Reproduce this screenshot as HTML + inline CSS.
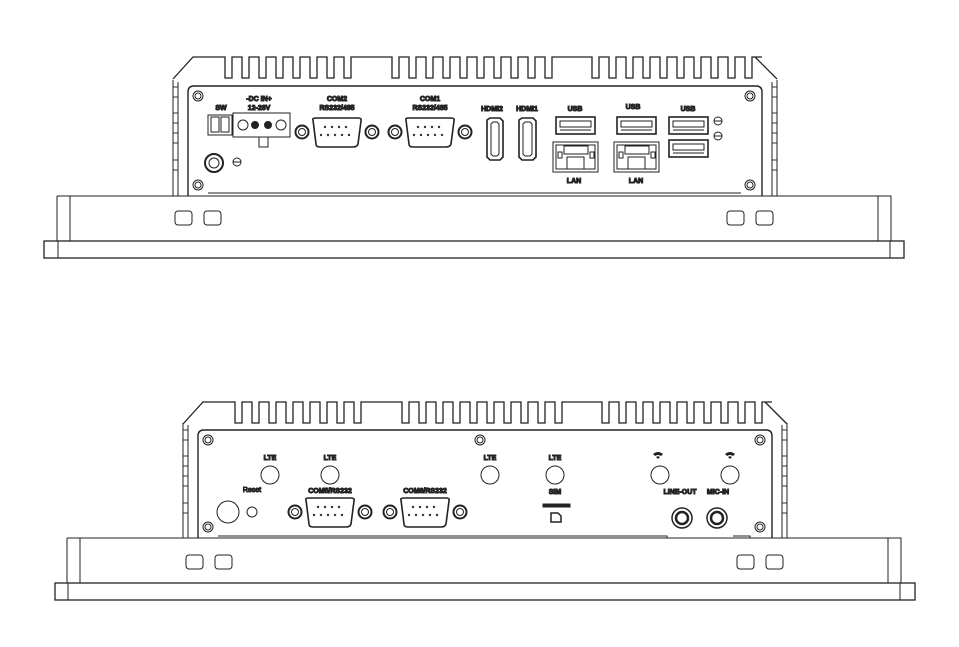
<!DOCTYPE html>
<html><head><meta charset="utf-8"><style>
html,body{margin:0;padding:0;background:#fff}
svg{display:block}
text{font-family:"Liberation Sans",sans-serif;font-weight:bold;font-size:7px;text-anchor:middle;fill:#3b2f2a}
.b{fill:#1f4f8c}
</style></head><body>
<svg id="s" width="959" height="647" viewBox="0 0 959 647" xmlns="http://www.w3.org/2000/svg" fill="none" stroke="#222" stroke-width="1">
<g id="fins"></g>

<!-- ===== TOP UNIT ===== -->
<path d="M173 80 V196 M178 82 V196 M777 80 V196 M772 82 V196"/>
<g stroke-width="0.9">
<rect x="173" y="87" width="5" height="10"/><rect x="173" y="113" width="5" height="10"/><rect x="173" y="133" width="5" height="10"/><rect x="173" y="160" width="5" height="10"/>
<rect x="772" y="87" width="5" height="10"/><rect x="772" y="113" width="5" height="10"/><rect x="772" y="133" width="5" height="10"/><rect x="772" y="160" width="5" height="10"/>
</g>
<path d="M188 196 V92 Q188 86 194 86 H756 Q762 86 762 92 V196" stroke-width="1.4"/>
<path d="M208 193 H741"/>
<path d="M57 196 H891 V241 M57 196 V241 M70 196 V241 M878 196 V241"/>
<rect x="44" y="241" width="860" height="17" stroke-width="1.3"/>
<path d="M58 241 V258 M890 241 V258"/>
<rect x="175" y="211" width="17" height="14" rx="3"/><rect x="204" y="211" width="17" height="14" rx="3"/>
<rect x="727" y="211" width="17" height="14" rx="3"/><rect x="756" y="211" width="17" height="14" rx="3"/>
<g>
<circle cx="198" cy="96" r="5"/><circle cx="198" cy="96" r="3"/>
<circle cx="198" cy="185" r="5"/><circle cx="198" cy="185" r="3"/>
<circle cx="750" cy="96" r="5"/><circle cx="750" cy="96" r="3"/>
<circle cx="750" cy="185" r="5"/><circle cx="750" cy="185" r="3"/>
</g>
<rect x="208" y="115" width="24" height="20"/><rect x="211" y="117" width="8" height="15"/><rect x="221" y="117" width="8" height="15"/>
<rect x="233" y="113" width="57" height="24"/><circle cx="243" cy="125" r="5"/><circle cx="281" cy="125" r="5"/>
<circle cx="255" cy="125" r="3.5" fill="#222"/><circle cx="268" cy="125" r="3.5" fill="#222"/>
<rect x="259" y="137" width="9" height="10"/>
<circle cx="214" cy="163" r="9" stroke-width="2"/><circle cx="214" cy="163" r="5"/>
<circle cx="237" cy="162" r="4"/><path d="M233 162 H241"/>
<g id="db">
<path d="M313 120 Q312 118 316 118 H358 Q362 118 361 121 L358 144 Q357 147 353 147 H320 Q316 147 316 144 Z" stroke-width="1.6"/>
<g fill="#333" stroke="none"><circle cx="325" cy="127" r="1.2"/><circle cx="332" cy="127" r="1.2"/><circle cx="339" cy="127" r="1.2"/><circle cx="346" cy="127" r="1.2"/>
<circle cx="321" cy="135" r="1.2"/><circle cx="328" cy="135" r="1.2"/><circle cx="335" cy="135" r="1.2"/><circle cx="342" cy="135" r="1.2"/><circle cx="349" cy="135" r="1.2"/></g>
<circle cx="302" cy="132" r="6.5" stroke-width="2"/><circle cx="302" cy="132" r="3.5"/>
<circle cx="372" cy="132" r="6.5" stroke-width="2"/><circle cx="372" cy="132" r="3.5"/>
</g>
<use href="#db" transform="translate(93,0)"/>
<path d="M487 120 L490 118 H500 L503 121 V157 L500 160 H490 L487 157 Z" stroke-width="1.6"/><path d="M491 124 L493 122 H497 L499 124 V154 L497 156 H493 L491 154 Z"/>
<path d="M519 120 L522 118 H533 L536 121 V157 L533 160 H522 L519 157 Z" stroke-width="1.6"/><path d="M523 124 L525 122 H530 L532 124 V154 L530 156 H525 L523 154 Z"/>
<g id="usb"><rect x="556" y="117" width="39" height="17" stroke-width="1.6"/><rect x="560" y="121" width="31" height="6"/><path d="M560 130 H591"/></g>
<use href="#usb" transform="translate(61,0)"/>
<use href="#usb" transform="translate(113,0)"/>
<use href="#usb" transform="translate(113,23)"/>
<g id="lan"><rect x="553" y="142" width="45" height="30"/><rect x="556" y="145" width="39" height="24"/><rect x="564" y="146" width="24" height="8"/><rect x="567" y="157" width="17" height="12"/><rect x="558" y="152" width="4" height="6"/><rect x="590" y="152" width="4" height="6"/></g>
<use href="#lan" transform="translate(61,0)"/>
<circle cx="718" cy="121" r="4"/><path d="M714 121 H722"/><circle cx="718" cy="136" r="4"/><path d="M714 136 H722"/>
<text x="221" y="110">SW</text>
<text x="259" y="101">-DC IN+</text><text x="259" y="110">12-28V</text>
<text x="337" y="101">COM2</text><text x="337" y="110">RS232/485</text>
<text x="430" y="101">COM1</text><text x="430" y="110">RS232/485</text>
<text x="492" y="111" class="b">HDMI2</text><text x="527" y="111" class="b">HDMI1</text>
<text x="575" y="111">USB</text><text x="633" y="109">USB</text><text x="688" y="111">USB</text>
<text x="574" y="183" class="b">LAN</text><text x="636" y="183" class="b">LAN</text>

<!-- ===== BOTTOM UNIT ===== -->
<path d="M183 423 V538 M188 425 V538 M787 423 V538 M782 425 V538"/>
<g stroke-width="0.9">
<rect x="183" y="430" width="5" height="10"/><rect x="183" y="456" width="5" height="10"/><rect x="183" y="476" width="5" height="10"/><rect x="183" y="503" width="5" height="10"/>
<rect x="782" y="430" width="5" height="10"/><rect x="782" y="456" width="5" height="10"/><rect x="782" y="476" width="5" height="10"/><rect x="782" y="503" width="5" height="10"/>
</g>
<path d="M198 538 V436 Q198 430 204 430 H766 Q772 430 772 436 V538" stroke-width="1.4"/>
<path d="M218 536 H667 V538 M733 536 H750 V538"/>
<path d="M67 538 H901 V583 M67 538 V583 M80 538 V583 M888 538 V583"/>
<rect x="55" y="583" width="860" height="17" stroke-width="1.3"/>
<path d="M68 583 V600 M900 583 V600"/>
<rect x="186" y="555" width="17" height="14" rx="3"/><rect x="215" y="555" width="17" height="14" rx="3"/>
<rect x="737" y="555" width="17" height="14" rx="3"/><rect x="766" y="555" width="17" height="14" rx="3"/>
<g>
<circle cx="208" cy="440" r="5"/><circle cx="208" cy="440" r="3"/>
<circle cx="208" cy="527" r="5"/><circle cx="208" cy="527" r="3"/>
<circle cx="480" cy="440" r="5"/><circle cx="480" cy="440" r="3"/>
<circle cx="760" cy="440" r="5"/><circle cx="760" cy="440" r="3"/>
<circle cx="760" cy="527" r="5"/><circle cx="760" cy="527" r="3"/>
</g>
<circle cx="270" cy="475" r="9"/><circle cx="330" cy="475" r="9"/><circle cx="490" cy="475" r="9"/><circle cx="555" cy="475" r="9"/>
<circle cx="660" cy="475" r="9"/><circle cx="730" cy="475" r="9"/>
<circle cx="228" cy="512" r="11"/><circle cx="252" cy="512" r="5"/>
<use href="#db" transform="translate(-7,380)"/>
<use href="#db" transform="translate(88,380)"/>
<rect x="543" y="504" width="27" height="3" fill="#222"/>
<path d="M551 513 H558 L561 516 V522 H551 Z" stroke-width="1.5"/>
<circle cx="682" cy="518" r="10" stroke-width="1.5"/><circle cx="682" cy="518" r="6" stroke-width="2.5"/>
<circle cx="717" cy="518" r="10" stroke-width="1.5"/><circle cx="717" cy="518" r="6" stroke-width="2.5"/>
<g fill="#222" stroke="none"><path d="M653 454 Q658 450 663 454 L661 456 Q658 454 655 456 Z M656 457 Q658 455.5 660 457 L658 459 Z"/>
<path d="M725 454 Q730 450 735 454 L733 456 Q730 454 727 456 Z M728 457 Q730 455.5 732 457 L730 459 Z"/></g>
<text x="270" y="460" style="fill:#5a3a20">LTE</text><text x="330" y="460" style="fill:#5a3a20">LTE</text>
<text x="490" y="460" style="fill:#5a3a20">LTE</text><text x="555" y="460" style="fill:#5a3a20">LTE</text>
<text x="252" y="492" style="font-weight:normal">Reset</text>
<text x="330" y="493">COM5/RS232</text><text x="425" y="493">COM6/RS232</text>
<text x="555" y="494">SIM</text>
<text x="680" y="494">LINE-OUT</text><text x="718" y="494">MIC-IN</text>
</svg>
<script>
function fins(x0,x1,yt,yb,wides,xr){
 var d="M"+x0+" "+(yb+1)+" L"+(x0+20)+" "+yt+" L"+(x0+52)+" "+yt;
 var x=x0+52;
 while(x<xr-30){
  var w=null;for(var i=0;i<wides.length;i++){if(x>=wides[i][0]-8&&x<wides[i][1]-5)w=wides[i];}
  if(w){x=w[1];d+=" L"+x+" "+yt;continue;}
  d+=" L"+x+" "+yb+" L"+(x+7)+" "+yb+" L"+(x+7)+" "+yt+" L"+(x+17)+" "+yt;
  x+=17;
 }
 d+=" L"+(xr-22)+" "+yt+" L"+xr+" "+(yb+1);
 return d;
}
var g=document.getElementById("fins");
g.innerHTML='<path d="'+fins(173,777,57,78,[[358,392],[563,592]],777)+'" stroke-width="1.3"/>'+
 '<path d="'+fins(183,787,402,423,[[368,402],[573,602]],787)+'" stroke-width="1.3"/>';
</script>
</body></html>
